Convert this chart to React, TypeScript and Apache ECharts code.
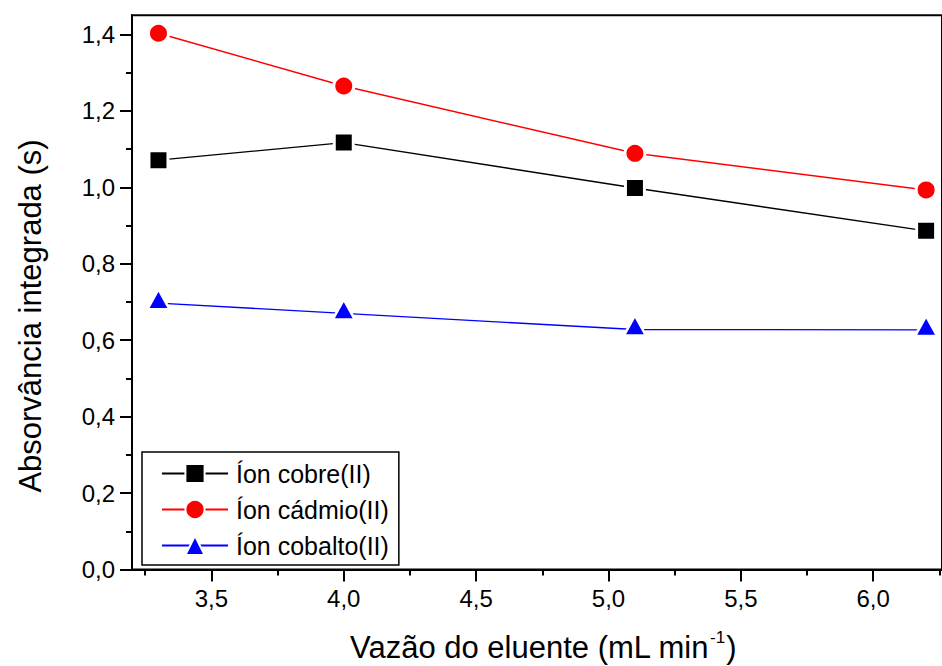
import React, { useEffect, useRef } from "react";
import * as echarts from "echarts";

const seriesNames = ["Íon cobre(II)", "Íon cádmio(II)", "Íon cobalto(II)"];
const xValues = [3.3, 4.0, 5.1, 6.2];
const cobre = [1.071, 1.117, 0.998, 0.886];
const cadmio = [1.403, 1.265, 1.089, 0.993];
const cobalto = [0.697, 0.67, 0.628, 0.627];

const xMajorTicks = [3.5, 4.0, 4.5, 5.0, 5.5, 6.0];
const xMinorTicks = [3.25, 3.75, 4.25, 4.75, 5.25, 5.75, 6.25];
const yMajorTicks = [0, 0.2, 0.4, 0.6, 0.8, 1.0, 1.2, 1.4];
const yMinorTicks = [0.1, 0.3, 0.5, 0.7, 0.9, 1.1, 1.3];

const xTitle = "Vazão do eluente (mL min";
const xTitleSup = "-1";
const yTitle = "Absorvância integrada (s)";

const FONT = "'Liberation Sans', Arial, sans-serif";
const fmt = (v: number) => v.toFixed(1).replace(".", ",");

export default function App() {
  const ref = useRef<HTMLDivElement>(null);

  useEffect(() => {
    if (!ref.current) return;
    const chart = echarts.init(ref.current, undefined, { renderer: "svg" });

    const mk = (vals: number[]) => xValues.map((x, i) => [x, vals[i]]);

    const option: any = {
      animation: false,
      backgroundColor: "#fff",
      textStyle: { fontFamily: FONT },
      grid: {
        left: 132,
        top: 15.3,
        width: 811,
        height: 554.2,
        show: true,
        borderColor: "#000",
        borderWidth: 2,
        containLabel: false,
      },
      xAxis: [
        {
          type: "value",
          min: 3.2,
          max: 6.26,
          position: "bottom",
          splitLine: { show: false },
          axisLine: { show: true, lineStyle: { color: "#000", width: 2 } },
          axisTick: {
            show: true,
            inside: false,
            length: 12,
            customValues: xMajorTicks,
            lineStyle: { color: "#000", width: 2 },
          },
          axisLabel: {
            customValues: xMajorTicks,
            formatter: (v: number) => fmt(v),
            fontSize: 24,
            color: "#000",
            fontFamily: FONT,
            margin: 17,
          },
        },
        {
          type: "value",
          min: 3.2,
          max: 6.26,
          position: "bottom",
          splitLine: { show: false },
          axisLine: { show: false },
          axisTick: {
            show: true,
            inside: false,
            length: 6,
            customValues: xMinorTicks,
            lineStyle: { color: "#000", width: 2 },
          },
          axisLabel: { show: false },
        },
      ],
      yAxis: [
        {
          type: "value",
          min: 0,
          max: 1.45,
          position: "left",
          splitLine: { show: false },
          axisLine: { show: true, lineStyle: { color: "#000", width: 2 } },
          axisTick: {
            show: true,
            inside: false,
            length: 12,
            customValues: yMajorTicks,
            lineStyle: { color: "#000", width: 2 },
          },
          axisLabel: {
            customValues: yMajorTicks,
            formatter: (v: number) => fmt(v),
            fontSize: 24,
            color: "#000",
            fontFamily: FONT,
            margin: 17,
          },
        },
        {
          type: "value",
          min: 0,
          max: 1.45,
          position: "left",
          splitLine: { show: false },
          axisLine: { show: false },
          axisTick: {
            show: true,
            inside: false,
            length: 6,
            customValues: yMinorTicks,
            lineStyle: { color: "#000", width: 2 },
          },
          axisLabel: { show: false },
        },
      ],
      legend: {
        orient: "vertical",
        left: 142,
        top: 452,
        padding: [9, 10, 7, 19],
        itemGap: 11,
        itemWidth: 66,
        itemHeight: 24,
        borderColor: "#000",
        borderWidth: 1.5,
        backgroundColor: "#fff",
        textStyle: { fontSize: 25, color: "#000", fontFamily: FONT, padding: [0, 0, 0, 3] },
        data: seriesNames,
      },
      series: [
        {
          name: seriesNames[0],
          type: "line",
          data: mk(cobre),
          symbol: "rect",
          symbolSize: 19,
          itemStyle: { color: "#000", borderColor: "#fff", borderWidth: 3 },
          lineStyle: { color: "#000", width: 1.4 },
          z: 3,
        },
        {
          name: seriesNames[1],
          type: "line",
          data: mk(cadmio),
          symbol: "circle",
          symbolSize: 20,
          itemStyle: { color: "#ff0000", borderColor: "#fff", borderWidth: 3 },
          lineStyle: { color: "#ff0000", width: 1.4 },
          z: 3,
        },
        {
          name: seriesNames[2],
          type: "line",
          data: mk(cobalto),
          symbol: "triangle",
          symbolSize: [22, 20],
          symbolOffset: [0, -4],
          itemStyle: { color: "#0000ff", borderColor: "#fff", borderWidth: 2.5 },
          lineStyle: { color: "#0000ff", width: 1.4 },
          z: 3,
        },
      ],
      graphic: [
        {
          type: "text",
          x: 30,
          y: 316,
          rotation: Math.PI / 2,
          style: {
            text: yTitle,
            fontSize: 31,
            fontFamily: FONT,
            fill: "#000",
            align: "center",
            verticalAlign: "middle",
          },
        },
        {
          type: "text",
          x: 543,
          y: 646,
          style: {
            text: `{a|${xTitle}}{s|${xTitleSup}}{a|)}`,
            fontFamily: FONT,
            fill: "#000",
            align: "center",
            verticalAlign: "middle",
            rich: {
              a: { fontSize: 31, fontFamily: FONT, fill: "#000", lineHeight: 34, verticalAlign: "bottom" },
              s: { fontSize: 17, fontFamily: FONT, fill: "#000", lineHeight: 34, verticalAlign: "top", padding: [0, 1, 0, 1] },
            },
          },
        },
      ],
    };

    chart.setOption(option);
    return () => chart.dispose();
  }, []);

  return (
    <div
      ref={ref}
      style={{ position: "fixed", left: 0, top: 0, width: 942, height: 666, background: "#fff" }}
    />
  );
}
